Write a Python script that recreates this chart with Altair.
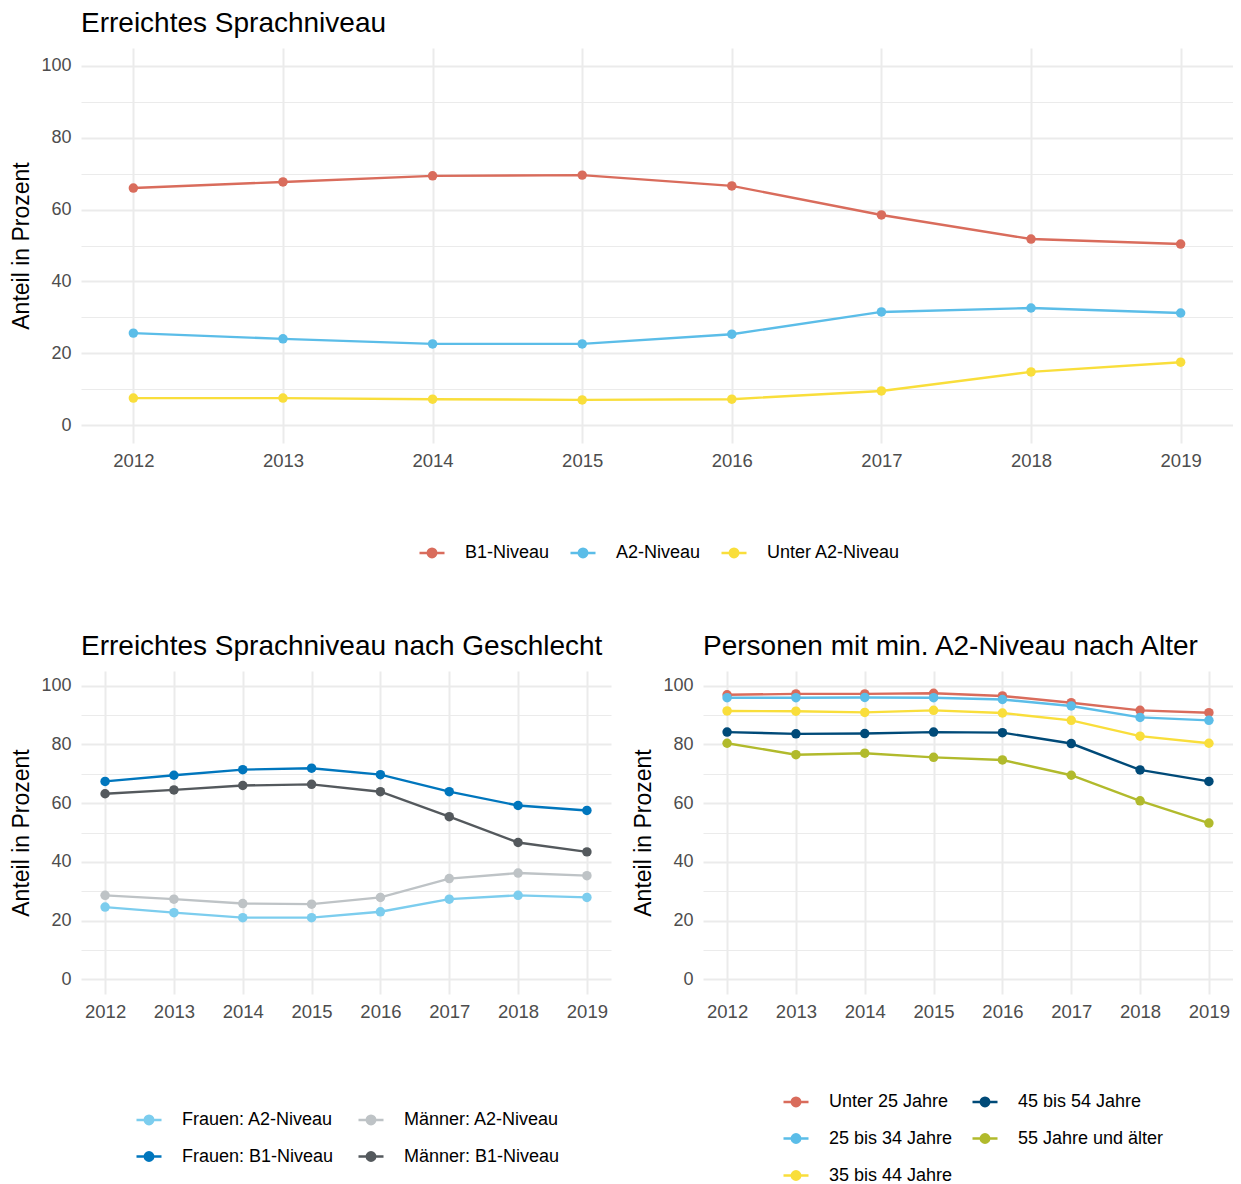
import altair as alt
import pandas as pd

FONT = "Liberation Sans"

years = [2012, 2013, 2014, 2015, 2016, 2017, 2018, 2019]

# Top panel: Erreichtes Sprachniveau
top_series = ["B1-Niveau", "A2-Niveau", "Unter A2-Niveau"]
top_colors = ["#d96c5c", "#5bbde8", "#f9de3b"]
b1_niveau = [66.0, 67.7, 69.4, 69.6, 66.6, 58.5, 51.8, 50.4]
a2_niveau = [25.6, 24.0, 22.6, 22.6, 25.3, 31.5, 32.6, 31.2]
unter_a2 = [7.5, 7.5, 7.2, 7.0, 7.2, 9.5, 14.8, 17.5]

# Bottom-left panel: nach Geschlecht (domain order gives column-wise legend)
sex_series = ["Frauen: A2-Niveau", "Männer: A2-Niveau", "Frauen: B1-Niveau", "Männer: B1-Niveau"]
sex_colors = ["#7ccdee", "#bec3c6", "#0076bd", "#54595d"]
frauen_a2 = [24.6, 22.7, 21.0, 21.0, 23.0, 27.3, 28.6, 27.9]
maenner_a2 = [28.6, 27.3, 25.8, 25.6, 27.9, 34.3, 36.2, 35.3]
frauen_b1 = [67.4, 69.5, 71.4, 71.9, 69.7, 63.9, 59.2, 57.5]
maenner_b1 = [63.2, 64.5, 66.0, 66.4, 63.9, 55.4, 46.6, 43.4]

# Bottom-right panel: nach Alter (domain order gives column-wise legend)
age_series = ["Unter 25 Jahre", "45 bis 54 Jahre", "25 bis 34 Jahre", "55 Jahre und älter", "35 bis 44 Jahre"]
age_colors = ["#d96c5c", "#004a78", "#5bbde8", "#b1ba2c", "#f9de3b"]
unter_25 = [96.9, 97.2, 97.2, 97.4, 96.5, 94.2, 91.6, 90.8]
bis_34 = [95.9, 95.9, 96.0, 95.9, 95.3, 93.1, 89.2, 88.2]
bis_44 = [91.4, 91.3, 90.9, 91.6, 90.7, 88.2, 82.8, 80.4]
bis_54 = [84.2, 83.6, 83.7, 84.2, 84.0, 80.3, 71.3, 67.4]
ab_55 = [80.4, 76.5, 77.0, 75.6, 74.7, 69.5, 60.8, 53.2]

x_ticks = [2012, 2012.5, 2013, 2013.5, 2014, 2014.5, 2015, 2015.5, 2016, 2016.5,
           2017, 2017.5, 2018, 2018.5, 2019]
y_ticks = [0, 10, 20, 30, 40, 50, 60, 70, 80, 90, 100]


def long_df(names, values):
    rows = []
    for n, vals in zip(names, values):
        for yr, v in zip(years, vals):
            rows.append({"Jahr": yr, "Wert": v, "Serie": n})
    return pd.DataFrame(rows)


top_df = long_df(top_series, [b1_niveau, a2_niveau, unter_a2])
sex_df = long_df(sex_series, [frauen_a2, maenner_a2, frauen_b1, maenner_b1])
age_df = long_df(age_series, [unter_25, bis_54, bis_34, ab_55, bis_44])

SYMBOL = "M-1,0L1,0M0.34,0A0.34,0.34,0,1,1,-0.34,0A0.34,0.34,0,1,1,0.34,0Z"


def panel(df, order, colors, title, width, height, lx, ly, columns, colpad, rowpad):
    x = alt.X(
        "Jahr:Q",
        scale=alt.Scale(domain=[2011.65, 2019.35], nice=False, zero=False),
        axis=alt.Axis(
            values=x_ticks, format="d",
            labelExpr="datum.value % 1 === 0 ? datum.label : ''",
            title=None, grid=True, ticks=False, domain=False,
            gridColor="#ebebeb",
            gridWidth={"condition": {"test": "datum.value % 1 === 0", "value": 2}, "value": 1},
            labelFont=FONT, labelFontSize=18.5, labelColor="#4d4d4d",
            labelPadding=8, labelOverlap=False, labelFlush=False, labelBound=False,
        ),
    )
    y = alt.Y(
        "Wert:Q",
        scale=alt.Scale(domain=[-5, 105], nice=False, zero=False),
        axis=alt.Axis(
            values=y_ticks,
            labelExpr="datum.value % 20 === 0 ? datum.label : ''",
            title="Anteil in Prozent", grid=True, ticks=False, domain=False,
            gridColor="#ebebeb",
            gridWidth={"condition": {"test": "datum.value % 20 === 0", "value": 2}, "value": 1},
            labelFont=FONT, labelFontSize=18, labelColor="#4d4d4d",
            labelPadding=10, labelOverlap=False,
            titleFont=FONT, titleFontSize=23, titleFontWeight="normal",
            titleColor="#000000", titlePadding=7,
        ),
    )
    color = alt.Color(
        "Serie:N",
        sort=order,
        scale=alt.Scale(domain=order, range=colors),
        legend=alt.Legend(
            title=None, orient="none", legendX=lx, legendY=ly,
            direction="horizontal", columns=columns,
            symbolType=SYMBOL, symbolSize=625, symbolStrokeWidth=2.4,
            labelFont=FONT, labelFontSize=18, labelColor="#000000",
            labelOffset=19, columnPadding=colpad, rowPadding=rowpad, padding=0,
        ),
    )
    return (
        alt.Chart(df)
        .mark_line(strokeWidth=2.4, point=alt.OverlayMarkDef(filled=True, size=90, opacity=1))
        .encode(x=x, y=y, color=color)
        .properties(
            width=width, height=height,
            title=alt.TitleParams(
                title, anchor="start", frame="group", font=FONT, fontSize=28,
                fontWeight="normal", color="#000000", offset=10,
            ),
        )
    )


top = panel(top_df, top_series, top_colors, "Erreichtes Sprachniveau",
            1152, 395, 337, 490.5, 3, 15, 12)
left = panel(sex_df, sex_series, sex_colors, "Erreichtes Sprachniveau nach Geschlecht",
             530, 323, 54, 434.5, 2, 19, 13)
right = panel(age_df, age_series, age_colors, "Personen mit min. A2-Niveau nach Alter",
              530, 323, 79, 416.5, 2, 14, 13)

bottom = alt.hconcat(left, right, spacing=21).resolve_scale(color="independent")
chart = (
    alt.vconcat(top, bottom, spacing=70)
    .resolve_scale(color="independent")
    .properties(padding={"left": 2, "top": 2, "right": 0, "bottom": 0})
    .configure_view(stroke=None)
)

chart.save("out.html", embed_options={"renderer": "svg", "actions": False})
